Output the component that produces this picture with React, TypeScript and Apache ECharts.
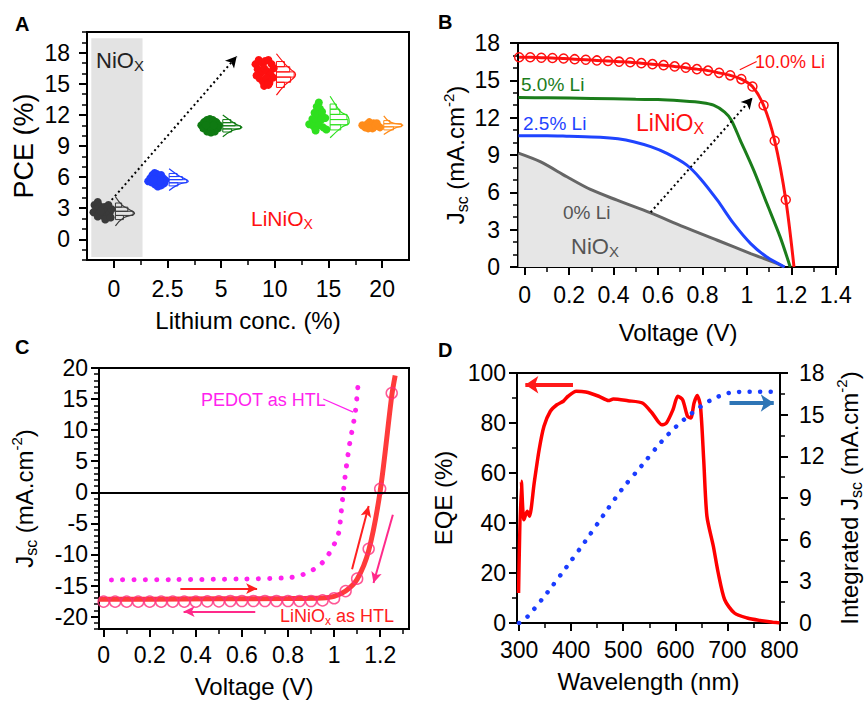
import React, { useEffect, useRef } from 'react';
import * as echarts from 'echarts';

const FONT = '"Liberation Sans", Arial, Helvetica, sans-serif';

// ---------------- Panel A data ----------------
const liCategories = ['0', '2.5', '5', '10', '15', '20'];
const clusterColors = ['#3a3a3a', '#1f3dff', '#0f7a12', '#ff1010', '#2fe01f', '#ff8c1a'];
// scatter points: [offset from category, PCE]
const pts0 = [[-0.36, 3.3], [-0.3, 3.6], [-0.26, 3.2], [-0.33, 2.9], [-0.38, 2.6], [-0.28, 2.5], [-0.22, 2.9], [-0.18, 3.1], [-0.14, 2.7], [-0.2, 2.3], [-0.12, 2.2], [-0.08, 2.5], [-0.04, 2.9], [-0.1, 3.3], [-0.16, 1.9], [-0.3, 2.2], [-0.24, 2.7], [-0.06, 2.1]];
const pts25 = [[-0.36, 5.6], [-0.32, 5.9], [-0.28, 6.2], [-0.24, 6.4], [-0.2, 6.3], [-0.16, 6.0], [-0.12, 6.2], [-0.08, 5.9], [-0.04, 5.7], [-0.06, 5.4], [-0.12, 5.2], [-0.18, 5.1], [-0.24, 5.3], [-0.3, 5.5], [-0.2, 5.7], [-0.14, 5.6], [-0.26, 5.8]];
const pts5 = [[-0.37, 11.0], [-0.32, 11.3], [-0.27, 11.5], [-0.21, 11.6], [-0.15, 11.5], [-0.09, 11.3], [-0.04, 11.0], [-0.06, 10.7], [-0.12, 10.4], [-0.19, 10.3], [-0.26, 10.4], [-0.33, 10.7], [-0.22, 10.9], [-0.14, 11.0], [-0.28, 11.0]];
const pts10 = [[-0.36, 16.9], [-0.3, 17.3], [-0.24, 17.0], [-0.18, 17.2], [-0.12, 17.3], [-0.06, 16.9], [-0.02, 16.5], [-0.32, 16.4], [-0.26, 16.1], [-0.2, 16.5], [-0.14, 16.2], [-0.08, 15.9], [-0.03, 15.6], [-0.34, 15.8], [-0.28, 15.5], [-0.22, 15.2], [-0.16, 15.6], [-0.1, 15.1], [-0.2, 14.8], [-0.12, 14.9]];
const pts15 = [[-0.18, 13.2], [-0.22, 12.8], [-0.16, 12.6], [-0.26, 12.2], [-0.2, 12.0], [-0.12, 11.9], [-0.3, 11.6], [-0.22, 11.4], [-0.14, 11.5], [-0.06, 11.7], [-0.36, 11.1], [-0.28, 10.9], [-0.18, 11.0], [-0.1, 10.8], [-0.04, 10.6], [-0.24, 10.5], [-0.12, 12.3]];
const pts20 = [[-0.37, 11.0], [-0.32, 10.8], [-0.28, 11.1], [-0.24, 11.3], [-0.2, 11.0], [-0.16, 11.2], [-0.12, 11.1], [-0.08, 10.9], [-0.04, 10.8], [-0.18, 10.7], [-0.26, 10.7], [-0.1, 11.2]];
// histogram bins: [PCE, relative count]
const hist0 = [[3.3, 0.35], [2.9, 0.7], [2.5, 1.0], [2.1, 0.45]];
const hist25 = [[6.2, 0.45], [5.9, 0.75], [5.6, 1.0], [5.3, 0.5]];
const hist5 = [[11.4, 0.45], [11.1, 0.7], [10.8, 1.0], [10.5, 0.5]];
const hist10 = [[16.9, 0.45], [16.4, 0.75], [15.9, 1.0], [15.4, 0.8], [14.9, 0.45]];
const hist15 = [[12.8, 0.35], [12.3, 0.55], [11.8, 0.95], [11.3, 1.0], [10.8, 0.6]];
const hist20 = [[11.3, 0.35], [11.0, 1.0], [10.7, 0.55]];
const binHeights = [0.4, 0.3, 0.3, 0.5, 0.5, 0.3];
const clusterPoints = [pts0, pts25, pts5, pts10, pts15, pts20];
const clusterHists = [hist0, hist25, hist5, hist10, hist15, hist20];

// ---------------- Panel B data ----------------
const jv10 = [[-0.025, 16.85], [0.025, 16.85], [0.075, 16.82], [0.125, 16.8], [0.175, 16.75], [0.225, 16.7], [0.275, 16.65], [0.325, 16.6], [0.375, 16.55], [0.425, 16.5], [0.475, 16.45], [0.525, 16.38], [0.575, 16.3], [0.625, 16.22], [0.675, 16.12], [0.725, 16.02], [0.775, 15.9], [0.825, 15.78], [0.875, 15.6], [0.925, 15.4], [0.975, 15.1], [1.025, 14.5], [1.075, 13.0], [1.125, 10.15], [1.175, 5.4], [1.212, 0]];
const jv5 = [[-0.028, 13.62], [0.1, 13.6], [0.3, 13.55], [0.5, 13.47], [0.6, 13.45], [0.7, 13.35], [0.8, 13.2], [0.85, 13.0], [0.9, 12.45], [0.93, 11.8], [0.97, 10.2], [1.03, 7.8], [1.09, 5.1], [1.15, 2.4], [1.195, 0]];
const jv25 = [[-0.028, 10.55], [0.1, 10.55], [0.2, 10.5], [0.34, 10.42], [0.42, 10.3], [0.49, 10.07], [0.567, 9.67], [0.64, 9.13], [0.73, 8.19], [0.79, 7.12], [0.867, 5.37], [0.94, 3.5], [1.017, 1.88], [1.09, 0.8], [1.17, 0]];
const jv0 = [[-0.028, 9.15], [0.07, 8.46], [0.19, 7.25], [0.296, 6.23], [0.416, 5.37], [0.567, 4.35], [0.716, 3.22], [0.867, 2.15], [1.017, 1.08], [1.137, 0.27], [1.167, 0]];

// ---------------- Panel C data ----------------
const liniLine = [[-0.02, -17.2], [0.2, -17.2], [0.5, -17.15], [0.8, -17.1], [0.95, -17.0], [1.0, -16.75], [1.05, -15.9], [1.1, -14.0], [1.15, -9.4], [1.2, 0.2], [1.25, 15.5], [1.265, 18.8]];
const liniCircles = [[0, -17.6], [0.05, -17.6], [0.1, -17.6], [0.15, -17.6], [0.2, -17.6], [0.25, -17.6], [0.3, -17.6], [0.35, -17.6], [0.4, -17.6], [0.45, -17.55], [0.5, -17.55], [0.55, -17.5], [0.6, -17.5], [0.65, -17.5], [0.7, -17.5], [0.75, -17.5], [0.8, -17.5], [0.85, -17.5], [0.9, -17.5], [0.95, -17.4], [1.0, -17.05], [1.05, -15.9], [1.1, -13.9], [1.15, -9.1], [1.2, 0.56], [1.25, 15.96]];
const pedot = [[0.034, -14.1], [0.3, -14.05], [0.6, -13.95], [0.8, -13.75], [0.86, -13.3], [0.907, -12.5], [0.947, -11.4], [0.976, -10.0], [1.0, -8.4], [1.02, -6.5], [1.031, -3.1], [1.046, 2.0], [1.066, 7.45], [1.092, 12.9], [1.106, 18.2]];

// ---------------- Panel D data ----------------
const eqe = [[299, 12], [304.4, 56.7], [309.3, 41.3], [315.6, 44.7], [319.9, 42.7], [329, 56], [338.5, 69.3], [347.8, 78.7], [360, 84.7], [372.6, 87.3], [385, 88.7], [394, 90.7], [409.7, 92.7], [428, 92.4], [453, 90.7], [471.7, 89], [481, 89.6], [509, 88.9], [536.8, 88], [555.4, 84], [574, 79.3], [583, 80], [595.5, 85.3], [604.8, 90.7], [614, 89.3], [623.4, 82.7], [629.7, 82], [636, 88], [642, 91], [648.3, 86.7], [654.5, 65.3], [660.7, 42.7], [673, 30.7], [682.4, 20], [694.8, 9.3], [713.4, 4], [738, 2], [763, 1.0], [787.7, 0.3], [800, 0]];
const integJsc = [[300, 0], [316.7, 0.48], [355, 2.23], [392, 4.08], [427, 5.88], [461.7, 7.75], [497, 9.6], [535.5, 11.33], [574, 13.08], [602, 14.16], [631.6, 15.1], [666, 16.0], [703, 16.56], [743, 16.65], [790, 16.65]];

// ---------------- helpers ----------------
const ticks = (a: number, b: number, step: number) => {
  const out: number[] = [];
  for (let v = a; v <= b + 1e-9; v += step) out.push(Math.round(v * 1000) / 1000);
  return out;
};

const nameRich = {
  n: { fontSize: 24, color: '#000', fontFamily: FONT, lineHeight: 30 },
  s: { fontSize: 16, color: '#000', fontFamily: FONT, lineHeight: 16, verticalAlign: 'bottom' },
  p: { fontSize: 15, color: '#000', fontFamily: FONT, lineHeight: 15, verticalAlign: 'top' },
};

function axisPair(o: any) {
  const main = {
    type: 'value', gridIndex: o.grid, min: o.min, max: o.max, position: o.pos,
    name: o.name, nameLocation: 'middle', nameGap: o.nameGap,
    nameTextStyle: { fontSize: o.nameSize || 24, color: '#000', fontFamily: FONT, rich: nameRich },
    axisLine: { show: true, onZero: false, lineStyle: { color: '#000', width: 2 } },
    axisTick: { show: true, inside: false, length: 8, customValues: o.majors, lineStyle: { color: '#000', width: 2 } },
    axisLabel: { show: true, customValues: o.majors, fontSize: 23, color: '#000', fontFamily: FONT, margin: o.margin, formatter: o.formatter },
    splitLine: { show: false },
  };
  const minor = {
    type: 'value', gridIndex: o.grid, min: o.min, max: o.max, position: o.pos,
    axisLine: { show: false, onZero: false },
    axisTick: { show: true, inside: false, length: 5, customValues: o.minors, lineStyle: { color: '#000', width: 1.5 } },
    axisLabel: { show: false },
    splitLine: { show: false },
  };
  return [main, minor];
}

function subRich(color: string, size: number) {
  const s = Math.round(size * 0.68);
  return {
    m: { fontSize: size, fill: color, fontFamily: FONT, lineHeight: size + 4 },
    s: { fontSize: s, fill: color, fontFamily: FONT, lineHeight: s, verticalAlign: 'bottom' },
  };
}

function txt(x: number, y: number, text: string, color: string, size: number, extra: any = {}) {
  return {
    type: 'text', x, y, silent: true, z: 100,
    style: { text, fill: color, fontSize: size, fontFamily: FONT, align: 'left', verticalAlign: 'middle', ...extra },
  };
}

const HIST_X0 = 0.03;
const HIST_W = 0.33;

function buildOption() {
  const gridBase = { show: true, borderColor: '#000', borderWidth: 2, containLabel: false, backgroundColor: 'transparent' };
  const grids = [
    { ...gridBase, left: 87, top: 32, width: 322, height: 228 },
    { ...gridBase, left: 518, top: 43, width: 320, height: 224 },
    { ...gridBase, left: 99, top: 368, width: 310, height: 261 },
    { ...gridBase, left: 517, top: 373, width: 272, height: 250 },
  ];

  const xAxes = [
    ...axisPair({ grid: 0, min: -0.5, max: 5.5, pos: 'bottom', majors: [0, 1, 2, 3, 4, 5], minors: [0.5, 1.5, 2.5, 3.5, 4.5], margin: 17, name: 'Lithium conc. (%)', nameGap: 48, formatter: (v: number) => liCategories[Math.round(v)] }),
    ...axisPair({ grid: 1, min: -0.03, max: 1.41, pos: 'bottom', majors: ticks(0, 1.4, 0.2), minors: ticks(0, 1.4, 0.1), margin: 16, name: 'Voltage (V)', nameGap: 53 }),
    ...axisPair({ grid: 2, min: -0.02, max: 1.325, pos: 'bottom', majors: ticks(0, 1.2, 0.2), minors: ticks(0, 1.3, 0.1), margin: 14, name: 'Voltage (V)', nameGap: 45 }),
    ...axisPair({ grid: 3, min: 296, max: 801, pos: 'bottom', majors: ticks(300, 800, 100), minors: ticks(300, 800, 50), margin: 15, name: 'Wavelength (nm)', nameGap: 46 }),
  ];
  const yAxes = [
    ...axisPair({ grid: 0, min: -2, max: 20, pos: 'left', majors: ticks(0, 18, 3), minors: ticks(-2, 20, 1), margin: 17, name: 'PCE (%)', nameGap: 50, nameSize: 27 }),
    ...axisPair({ grid: 1, min: 0, max: 18, pos: 'left', majors: ticks(0, 18, 3), minors: ticks(0, 18, 1), margin: 18, name: '{n|J}{s|sc}{n| (mA.cm}{p|-2}{n|)}', nameGap: 46 }),
    ...axisPair({ grid: 2, min: -22, max: 20, pos: 'left', majors: ticks(-20, 20, 5), minors: ticks(-22, 20, 1), margin: 11, name: '{n|J}{s|sc}{n| (mA.cm}{p|-2}{n|)}', nameGap: 60 }),
    ...axisPair({ grid: 3, min: 0, max: 100, pos: 'left', majors: ticks(0, 100, 20), minors: ticks(0, 100, 10), margin: 11, name: 'EQE (%)', nameGap: 62 }),
    ...axisPair({ grid: 3, min: 0, max: 18, pos: 'right', majors: ticks(0, 18, 3), minors: ticks(0, 18, 1.5), margin: 19, name: '{n|Integrated J}{s|sc}{n| (mA.cm}{p|-2}{n|)}', nameGap: 54 }),
  ];

  const series: any[] = [];

  // ---- Panel A ----
  clusterPoints.forEach((pts, k) => {
    const color = clusterColors[k];
    const bins = clusterHists[k];
    const bh = binHeights[k];
    const sc: any = {
      type: 'scatter', xAxisIndex: 0, yAxisIndex: 0, symbol: 'circle', symbolSize: 8, z: 3,
      itemStyle: { color, opacity: 1 },
      data: pts.map(([dx, p]) => [k + dx, p]),
    };
    if (k === 0) {
      sc.markArea = {
        silent: true, itemStyle: { color: '#e3e3e3' },
        data: [[{ coord: [-0.42, -1.7] }, { coord: [0.535, 19.4] }]],
      };
      sc.markLine = {
        silent: true, animation: false, symbol: ['none', 'arrow'], symbolSize: [9, 11],
        label: { show: false },
        lineStyle: { color: '#000', type: [2, 3], width: 2 },
        data: [[{ coord: [-0.04, 3.8] }, { coord: [2.29, 17.65] }]],
      };
    }
    series.push(sc);
    series.push({
      type: 'custom', xAxisIndex: 0, yAxisIndex: 0, z: 3,
      data: bins.map(([p, c]) => [k, p, c, bh]),
      renderItem: (_params: any, api: any) => {
        const cat = api.value(0), p = api.value(1), c = api.value(2), h = api.value(3);
        const a = api.coord([cat + HIST_X0, p + h / 2]);
        const b = api.coord([cat + HIST_X0 + c * HIST_W, p - h / 2]);
        return {
          type: 'rect',
          shape: { x: a[0], y: a[1], width: b[0] - a[0], height: b[1] - a[1] },
          style: { fill: 'none', stroke: color, lineWidth: 1 },
        };
      },
    });
    const top = bins[0][0] + bh * 2;
    const bottom = bins[bins.length - 1][0] - bh * 2;
    series.push({
      type: 'line', xAxisIndex: 0, yAxisIndex: 0, smooth: 0.5, showSymbol: false, z: 3,
      lineStyle: { color, width: 1.2 },
      data: [[k + HIST_X0, top], ...bins.map(([p, c]) => [k + HIST_X0 + c * HIST_W * 1.08, p]), [k + HIST_X0, bottom]],
    });
  });

  // ---- Panel B ----
  series.push({
    type: 'line', xAxisIndex: 2, yAxisIndex: 2, smooth: 0.3, showSymbol: false, z: 1,
    lineStyle: { color: '#666666', width: 3 },
    areaStyle: { color: '#e6e6e6', opacity: 1 },
    data: jv0,
    markLine: {
      silent: true, animation: false, symbol: ['none', 'arrow'], symbolSize: [9, 11],
      label: { show: false },
      lineStyle: { color: '#000', type: [2, 3], width: 2 },
      data: [[{ coord: [0.567, 4.4] }, { coord: [1.025, 13.6] }]],
    },
  });
  series.push({
    type: 'line', xAxisIndex: 2, yAxisIndex: 2, smooth: 0.3, showSymbol: false, z: 2,
    lineStyle: { color: '#1f44ff', width: 3 }, data: jv25,
  });
  series.push({
    type: 'line', xAxisIndex: 2, yAxisIndex: 2, smooth: 0.3, showSymbol: false, z: 2,
    lineStyle: { color: '#1b7d1b', width: 3 }, data: jv5,
  });
  series.push({
    type: 'line', xAxisIndex: 2, yAxisIndex: 2, smooth: 0.3, showSymbol: true, z: 3,
    symbol: 'circle', symbolSize: 9,
    lineStyle: { color: '#ff1010', width: 3 },
    itemStyle: { color: 'rgba(255,255,255,0)', borderColor: '#ff1010', borderWidth: 1.5 },
    data: jv10.map((d, i) => (i === jv10.length - 1 ? { value: d, symbol: 'none' } : d)),
    markLine: {
      silent: true, animation: false, symbol: ['none', 'none'],
      label: { show: false },
      lineStyle: { color: '#ff1010', type: 'solid', width: 1.2 },
      data: [[{ coord: [0.968, 15.85] }, { coord: [1.044, 16.52] }]],
    },
  });

  // ---- Panel C ----
  series.push({
    type: 'line', xAxisIndex: 4, yAxisIndex: 4, smooth: 0.3, showSymbol: false, z: 3,
    lineStyle: { color: '#ff22ee', width: 5, type: [0.1, 11.2], cap: 'round' },
    data: pedot,
    markLine: {
      silent: true, animation: false, symbol: ['none', 'none'],
      label: { show: false },
      data: [
        { yAxis: 0, lineStyle: { color: '#000', width: 2, type: 'solid' } },
        [{ coord: [0.953, 15.0], lineStyle: { color: '#ff22ee', width: 1.2, type: 'solid' } }, { coord: [1.083, 12.9] }],
      ],
    },
  });
  series.push({
    type: 'line', xAxisIndex: 4, yAxisIndex: 4, smooth: 0.3, showSymbol: false, z: 3,
    lineStyle: { color: '#ff3b3b', width: 5 },
    data: liniLine,
    markLine: {
      silent: true, animation: false, symbol: ['none', 'arrow'], symbolSize: [8, 11],
      label: { show: false },
      data: [
        [{ coord: [0.333, -15.5], lineStyle: { color: '#ff2020', width: 2, type: 'solid' } }, { coord: [0.666, -15.5] }],
        [{ coord: [0.658, -19.2], lineStyle: { color: '#ff2a8a', width: 2, type: 'solid' } }, { coord: [0.347, -19.2] }],
        [{ coord: [1.078, -12.4], lineStyle: { color: '#ff2020', width: 2, type: 'solid' } }, { coord: [1.15, -2.2] }],
        [{ coord: [1.255, -3.6], lineStyle: { color: '#ff2a8a', width: 2, type: 'solid' } }, { coord: [1.171, -14.6] }],
      ],
    },
  });
  series.push({
    type: 'scatter', xAxisIndex: 4, yAxisIndex: 4, symbol: 'circle', symbolSize: 11, z: 4,
    itemStyle: { color: 'rgba(255,255,255,0)', borderColor: '#ff2d7a', borderWidth: 1.5 },
    data: liniCircles,
  });

  // ---- Panel D ----
  series.push({
    type: 'line', xAxisIndex: 6, yAxisIndex: 6, smooth: 0.25, showSymbol: false, z: 3,
    lineStyle: { color: '#ff0000', width: 3.5 },
    data: eqe,
    markLine: {
      silent: true, animation: false, symbol: ['none', 'arrow'], symbolSize: [13, 13],
      label: { show: false },
      data: [[{ coord: [403.5, 95.3], lineStyle: { color: '#ff1a1a', width: 4, type: 'solid' } }, { coord: [312, 95.3] }]],
    },
  });
  series.push({
    type: 'line', xAxisIndex: 6, yAxisIndex: 8, smooth: 0.3, showSymbol: false, z: 3,
    lineStyle: { color: '#1a3cff', width: 4.5, type: [0.1, 10.4], cap: 'round' },
    data: integJsc,
    markLine: {
      silent: true, animation: false, symbol: ['none', 'arrow'], symbolSize: [13, 13],
      label: { show: false },
      data: [[{ coord: [704, 15.84], lineStyle: { color: '#2e75b6', width: 4, type: 'solid' } }, { coord: [789, 15.84] }]],
    },
  });

  const graphic = [
    txt(15, 24, 'A', '#000', 20, { fontWeight: 'bold' }),
    txt(438, 22, 'B', '#000', 20, { fontWeight: 'bold' }),
    txt(15, 347, 'C', '#000', 20, { fontWeight: 'bold' }),
    txt(438, 350, 'D', '#000', 20, { fontWeight: 'bold' }),
    // Panel A
    txt(96, 60, '{m|NiO}{s|X}', '#222', 22, { rich: subRich('#222', 22) }),
    txt(251, 218, '{m|LiNiO}{s|X}', '#ff1010', 21, { rich: subRich('#ff1010', 21) }),
    // Panel B
    txt(755, 62, '10.0% Li', '#ff1010', 18),
    txt(521, 84, '5.0% Li', '#1b7d1b', 19),
    txt(523, 123, '2.5% Li', '#1f44ff', 19),
    txt(636, 123, '{m|LiNiO}{s|X}', '#ff1010', 23, { rich: subRich('#ff1010', 23) }),
    txt(563, 212, '0% Li', '#555', 19),
    txt(571, 246, '{m|NiO}{s|X}', '#555', 22, { rich: subRich('#555', 22) }),
    // Panel C
    txt(201, 400, 'PEDOT as HTL', '#ff22ee', 18),
    txt(280, 616, '{m|LiNiO}{s|x}{m| as HTL}', '#ff2020', 18, { rich: subRich('#ff2020', 18) }),
  ];

  return {
    animation: false,
    backgroundColor: '#ffffff',
    grid: grids,
    xAxis: xAxes,
    yAxis: yAxes,
    series,
    graphic,
  };
}

export default function App() {
  const ref = useRef<HTMLDivElement>(null);
  useEffect(() => {
    const chart = echarts.init(ref.current!, null, { renderer: 'svg' });
    chart.setOption(buildOption() as any);
    return () => chart.dispose();
  }, []);
  return (
    <div
      ref={ref}
      style={{ position: 'absolute', left: 0, top: 0, width: 865, height: 701, background: '#fff' }}
    />
  );
}
